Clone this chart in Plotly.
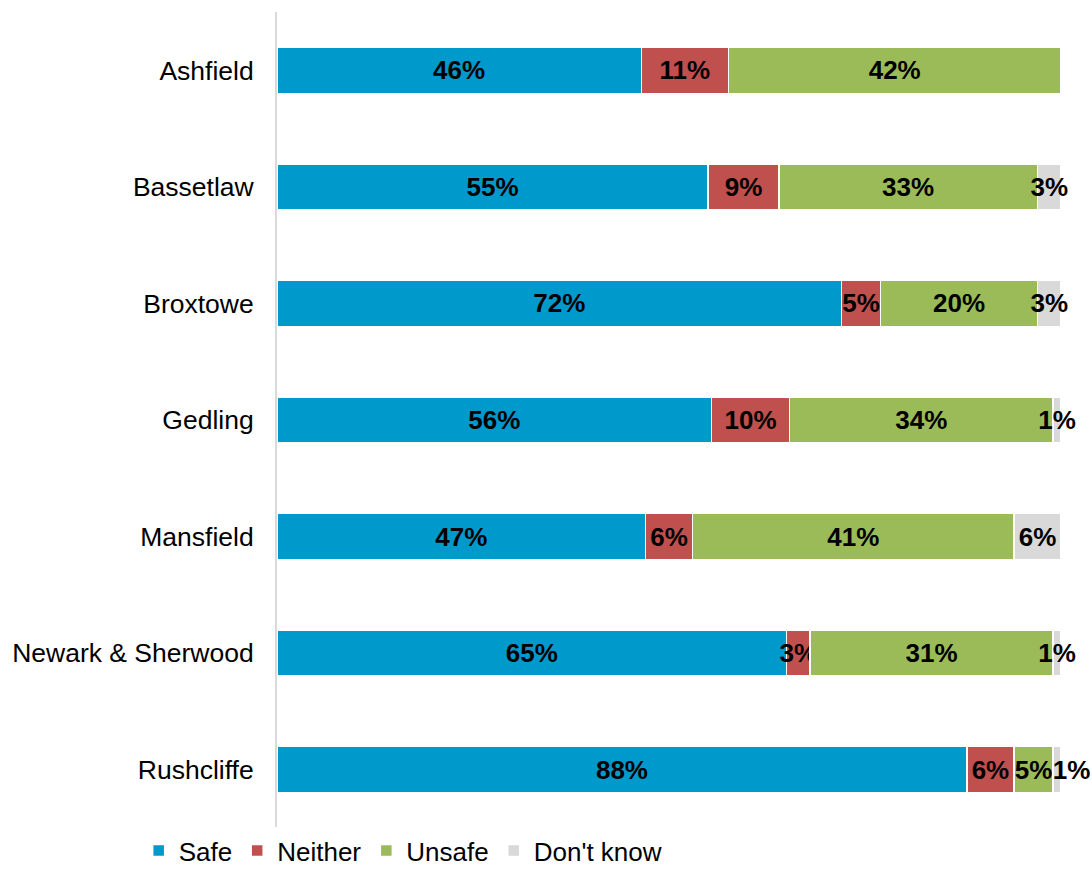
import plotly.graph_objects as go

# District-level responses, in percent
districts = ["Ashfield", "Bassetlaw", "Broxtowe", "Gedling", "Mansfield",
             "Newark & Sherwood", "Rushcliffe"]
safe = [46, 55, 72, 56, 47, 65, 88]
neither = [11, 9, 5, 10, 6, 3, 6]
unsafe = [42, 33, 20, 34, 41, 31, 5]
dont_know = [0, 3, 3, 1, 6, 1, 1]

series = [
    ("Safe", safe, "#0099CC"),
    ("Neither", neither, "#C0504D"),
    ("Unsafe", unsafe, "#9BBB59"),
    ("Don't know", dont_know, "#D9D9D9"),
]

FONT = "Liberation Sans, Arial, sans-serif"
NBSP = "\u00a0"


def labels(name, vals):
    out = []
    for cat, v in zip(districts, vals):
        if v <= 0:
            out.append("")
        elif name == "Don't know" and cat == "Rushcliffe":
            # nudge right so it doesn't collide with the neighbouring label
            out.append(NBSP * 4 + f"{v}%")
        else:
            out.append(f"{v}%")
    return out


fig = go.Figure()
for name, vals, color in series:
    fig.add_trace(go.Bar(
        name=name,
        y=districts,
        x=vals,
        orientation="h",
        marker=dict(color=color, line=dict(color="white", width=1.5)),
        text=labels(name, vals),
        textposition="inside",
        insidetextanchor="middle",
        textangle=0,
        constraintext="none",
        cliponaxis=False,
        textfont=dict(family=FONT, size=26, color="black", weight="bold"),
        hoverinfo="skip",
    ))

fig.update_layout(
    width=1092,
    height=874,
    barmode="stack",
    barnorm="percent",
    bargap=0.605,
    plot_bgcolor="white",
    paper_bgcolor="white",
    margin=dict(l=277, r=31, t=12, b=46, autoexpand=False),
    uniformtext=dict(minsize=26, mode="show"),
    font=dict(family=FONT, size=26, color="black"),
    showlegend=True,
    legend=dict(
        orientation="h",
        xref="container", yref="container",
        x=0.127, xanchor="left",
        y=-0.007, yanchor="bottom",
        font=dict(family=FONT, size=26, color="black"),
        traceorder="normal",
        itemclick=False,
        itemwidth=30,
    ),
)

fig.update_xaxes(
    range=[0, 100],
    showgrid=False,
    zeroline=False,
    showticklabels=False,
    showline=False,
)
fig.update_yaxes(
    autorange="reversed",
    showgrid=False,
    showline=True,
    linecolor="#D9D9D9",
    linewidth=2,
    ticks="",
    ticklabelstandoff=16,
    tickfont=dict(family=FONT, size=26.5, color="black"),
)

fig.write_html("out.html")
